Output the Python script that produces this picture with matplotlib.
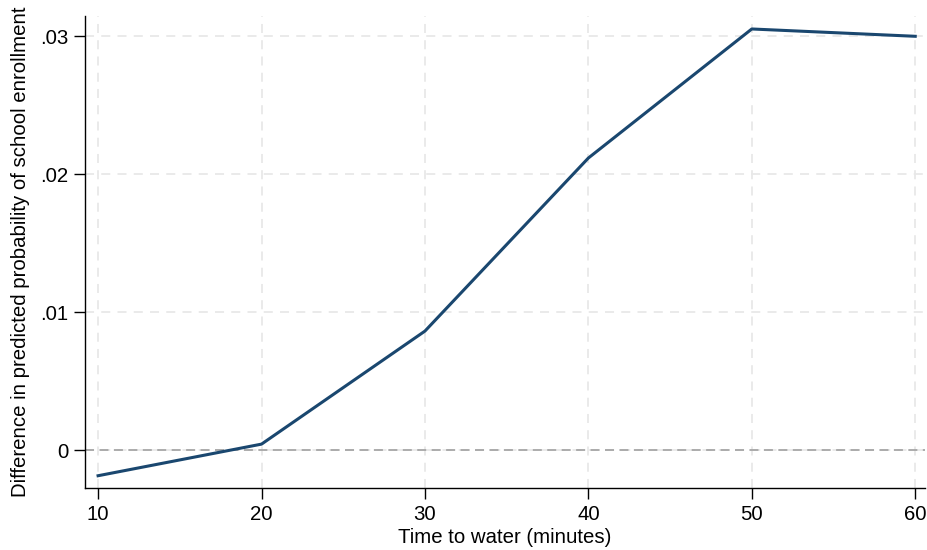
import matplotlib
matplotlib.use("Agg")
import matplotlib.pyplot as plt

minutes = [10, 20, 30, 40, 50, 60]
diff_prob = [-0.00186, 0.00043, 0.00862, 0.02116, 0.03051, 0.02998]
x_ticks = [10, 20, 30, 40, 50, 60]
y_ticks = [0, 0.01, 0.02, 0.03]
y_tick_labels = ["0", ".01", ".02", ".03"]

plt.rcParams['font.family'] = ['Liberation Sans', 'DejaVu Sans']

fig = plt.figure(figsize=(9.28, 5.5), dpi=100)
ax = fig.add_axes([0.0916, 0.1127, 0.9052, 0.8582])

ax.set_xlim(9.2, 60.6)
ax.set_ylim(-0.00275, 0.03145)

ax.set_xticks(x_ticks)
ax.set_yticks(y_ticks)
ax.set_yticklabels(y_tick_labels)

ax.grid(True, color='#e8e8e8', linestyle=(0, (5, 4)), linewidth=1.3)
ax.set_axisbelow(True)
ax.axhline(0, color='#a6a6a6', linestyle=(0, (5, 3)), linewidth=1.3, zorder=1)

ax.plot(minutes, diff_prob, color='#1a476f', linewidth=2.2, zorder=3)

for s in ['top', 'right']:
    ax.spines[s].set_visible(False)
for s in ['left', 'bottom']:
    ax.spines[s].set_color('black')
    ax.spines[s].set_linewidth(1.0)

ax.tick_params(axis='both', direction='out', length=8, width=1, labelsize=14.7, colors='black', pad=4)

ax.set_xlabel('Time to water (minutes)', fontsize=14.7, labelpad=3)
ax.set_ylabel('Difference in predicted probability of school enrollment', fontsize=14.7, labelpad=7)

fig.savefig('out.png', dpi=100, facecolor='white')
